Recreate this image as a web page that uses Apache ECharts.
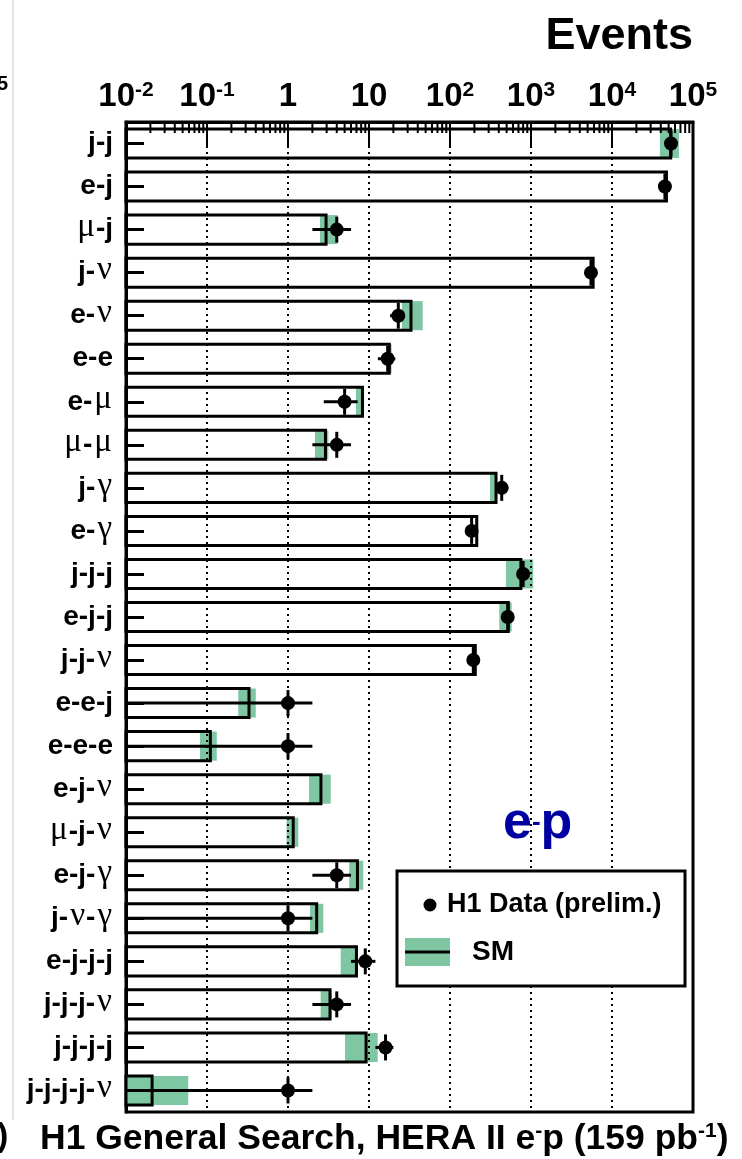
<!DOCTYPE html>
<html>
<head>
<meta charset="utf-8">
<script src="https://cdn.jsdelivr.net/npm/echarts@6/dist/echarts.min.js"></script>
<style>
  html, body { margin: 0; padding: 0; background: #fff; }
  #chart { width: 742px; height: 1159px; }
</style>
</head>
<body>
<div id="chart"></div>
<script>
// Final-state channels of the H1 general search (e-p, HERA II)
const channels = ['j-j', 'e-j', 'μ-j', 'j-ν', 'e-ν', 'e-e', 'e-μ', 'μ-μ', 'j-γ', 'e-γ',
  'j-j-j', 'e-j-j', 'j-j-ν', 'e-e-j', 'e-e-e', 'e-j-ν', 'μ-j-ν', 'e-j-γ', 'j-ν-γ',
  'e-j-j-j', 'j-j-j-ν', 'j-j-j-j', 'j-j-j-j-ν'];

// Standard Model expectation and its uncertainty band (events)
const smPrediction = [53000, 47000, 2.95, 5850, 33, 17.8, 8.3, 2.9, 370, 214,
  750, 525, 205, 0.33, 0.11, 2.55, 1.16, 7.2, 2.26, 7.0, 3.3, 9.2, 0.021];
const smBandLow = [39000, 46000, 2.48, 5700, 25.5, 17.0, 6.9, 2.15, 312, 205,
  490, 406, 198, 0.243, 0.082, 1.82, 0.96, 5.7, 1.87, 4.47, 2.53, 5.06, 0.005];
const smBandHigh = [67000, 48500, 4.1, 6000, 46, 19.0, 8.7, 3.15, 375, 216,
  1065, 578, 212, 0.40, 0.132, 3.37, 1.34, 8.5, 2.73, 7.2, 3.47, 12.8, 0.0587];

// Observed events (H1 preliminary)
const dataEvents = [53500, 45000, 4, 5500, 23, 17, 5, 4, 435, 185,
  800, 516, 194, 1, 1, 0, 0, 4, 1, 9, 4, 16, 1];

// Decade tick labels: [mantissa text, superscript]
const tickLabels = [['10', '-2'], ['10', '-1'], ['1', ''], ['10', ''],
  ['10', '2'], ['10', '3'], ['10', '4'], ['10', '5']];
const xMin = 0.01, xMax = 1e5;

const SANS = '"Liberation Sans", Arial, Helvetica, sans-serif';
const SERIF = '"Liberation Serif", "DejaVu Serif", serif';
const GREEN = '#7fc6a2';
const BLUE = '#0000a0';

// Split a channel name into Greek (serif) and Latin (bold sans) runs
function channelLabel(name) {
  let out = '', run = '', greek = null;
  for (const ch of name) {
    const g = /[\u0370-\u03ff]/.test(ch);
    if (greek !== null && g !== greek) { out += '{' + (greek ? 'g' : 'b') + '|' + run + '}'; run = ''; }
    greek = g; run += ch;
  }
  if (run) out += '{' + (greek ? 'g' : 'b') + '|' + run + '}';
  return out;
}

function decadeLabel(v) {
  const e = Math.round(Math.log10(v));
  const lab = tickLabels[e - Math.round(Math.log10(xMin))];
  if (!lab) return '';
  return lab[1] ? '{m|' + lab[0] + '}{s|' + lab[1] + '}' : '{m|' + lab[0] + '}';
}

// minor ticks 2..9 within each decade
const minorTicks = [];
for (let e = -2; e < 5; e++) for (let m = 2; m <= 9; m++) minorTicks.push([m * Math.pow(10, e), 0]);

const chart = echarts.init(document.getElementById('chart'), null, { renderer: 'canvas' });

function xAt(api, cs, v, cat) {
  const x = api.coord([Math.max(v, xMin), cat])[0];
  return Math.max(cs.x, Math.min(cs.x + cs.width, x));
}

chart.setOption({
  backgroundColor: '#fff',
  animation: false,
  grid: {
    left: 126, top: 122, width: 567, height: 990,
    show: true, borderColor: '#000', borderWidth: 3, backgroundColor: 'transparent',
    containLabel: false, outerBoundsMode: 'none'
  },
  xAxis: {
    type: 'log', logBase: 10, min: xMin, max: xMax, interval: 1, position: 'top', z: 5,
    axisLine: { show: true, onZero: false, lineStyle: { color: '#000', width: 3 } },
    axisTick: { show: true, inside: true, length: 26, lineStyle: { color: '#000', width: 2 } },
    minorTick: { show: false },
    axisLabel: {
      margin: 9, formatter: decadeLabel,
      rich: {
        m: { fontFamily: SANS, fontWeight: 'bold', fontSize: 33, color: '#000', verticalAlign: 'bottom', lineHeight: 33, padding: [10, 0, 0, 0] },
        s: { fontFamily: SANS, fontWeight: 'bold', fontSize: 21, color: '#000', verticalAlign: 'top', lineHeight: 21 }
      }
    },
    splitLine: { show: true, lineStyle: { color: '#000', width: 2, type: [2, 4] } }
  },
  yAxis: {
    type: 'category', inverse: true, data: channels,
    axisLine: { show: true, lineStyle: { color: '#000', width: 3 } },
    axisTick: { show: true, inside: true, length: 18, alignWithLabel: true, lineStyle: { color: '#000', width: 3 } },
    axisLabel: {
      margin: 13, formatter: channelLabel,
      rich: {
        b: { fontFamily: SANS, fontWeight: 'bold', fontSize: 28, color: '#000' },
        g: { fontFamily: SERIF, fontSize: 33, color: '#000', padding: [0, 1, 4, 2] }
      }
    },
    splitLine: { show: false }
  },
  series: [
    {
      // minor ticks hanging from the top axis
      type: 'custom', z: 6, silent: true,
      data: minorTicks, encode: { x: 0, y: 1 },
      renderItem(params, api) {
        const cs = params.coordSys;
        const x = api.coord([api.value(0), 0])[0];
        return { type: 'line', shape: { x1: x, y1: cs.y, x2: x, y2: cs.y + 11 }, style: { stroke: '#000', lineWidth: 2 } };
      }
    },
    {
      // SM expectation: uncertainty band and outlined bar
      type: 'custom', z: 2, silent: true,
      data: channels.map((c, i) => [smPrediction[i], i, smBandLow[i], smBandHigh[i]]),
      encode: { x: [0, 2, 3], y: 1 },
      renderItem(params, api) {
        const cs = params.coordSys;
        const cat = api.value(1);
        const band = cs.height / channels.length;
        const h = band * 0.675;
        const yc = api.coord([1, cat])[1];
        const xEnd = xAt(api, cs, api.value(0), cat);
        const bl = xAt(api, cs, api.value(2), cat);
        const bh = xAt(api, cs, api.value(3), cat);
        return {
          type: 'group', children: [
            { type: 'rect', shape: { x: bl, y: yc - h / 2, width: bh - bl, height: h }, style: { fill: GREEN } },
            { type: 'rect', shape: { x: cs.x, y: yc - h / 2, width: xEnd - cs.x, height: h }, style: { fill: 'none', stroke: '#000', lineWidth: 3 } }
          ]
        };
      }
    },
    {
      // data points with statistical errors
      type: 'custom', z: 7, silent: true,
      data: channels.map((c, i) => [dataEvents[i], i]),
      encode: { x: 0, y: 1 },
      renderItem(params, api) {
        const n = api.value(0);
        if (!(n > 0)) return null;
        const cs = params.coordSys;
        const cat = api.value(1);
        const err = Math.sqrt(n);
        const p = api.coord([n, cat]);
        const lo = xAt(api, cs, n - err, cat);
        const hi = xAt(api, cs, n + err, cat);
        return {
          type: 'group', children: [
            { type: 'line', shape: { x1: lo, y1: p[1], x2: hi, y2: p[1] }, style: { stroke: '#000', lineWidth: 3 } },
            { type: 'line', shape: { x1: p[0], y1: p[1] - 13, x2: p[0], y2: p[1] + 13 }, style: { stroke: '#000', lineWidth: 3 } },
            { type: 'circle', shape: { cx: p[0], cy: p[1], r: 7 }, style: { fill: '#000' } }
          ]
        };
      }
    }
  ],
  graphic: [
    { type: 'line', shape: { x1: 13, y1: 0, x2: 13, y2: 1120 }, style: { stroke: '#c8c8c8', lineWidth: 1 } },
    { type: 'text', left: -3, top: 74, style: { text: '5', font: 'bold 20px ' + SANS, fill: '#000' } },
    { type: 'text', left: -3, top: 1120, style: { text: ')', font: 'bold 34px ' + SANS, fill: '#000' } },
    {
      type: 'text', right: 49, top: 14,
      style: { text: 'Events', font: 'bold 45px ' + SANS, fill: '#000' }
    },
    {
      type: 'text', left: 40, top: 1117,
      style: {
        text: '{t|H1 General Search, HERA II e}{s|-}{t|p (159 pb}{s|-1}{t|)}',
        rich: {
          t: { fontFamily: SANS, fontWeight: 'bold', fontSize: 35.5, fill: '#000', verticalAlign: 'bottom', lineHeight: 36, padding: [4, 0, 0, 0] },
          s: { fontFamily: SANS, fontWeight: 'bold', fontSize: 21, fill: '#000', verticalAlign: 'top', lineHeight: 21 }
        }
      }
    },
    {
      type: 'text', left: 503, top: 796,
      style: {
        text: '{t|e}{s|-}{t|p}',
        rich: {
          t: { fontFamily: SANS, fontWeight: 'bold', fontSize: 52, fill: BLUE, verticalAlign: 'bottom', lineHeight: 54 },
          s: { fontFamily: SANS, fontWeight: 'bold', fontSize: 26, fill: BLUE, verticalAlign: 'top', lineHeight: 26, padding: [14, 0, 0, 0] }
        }
      }
    },
    // legend
    { type: 'rect', shape: { x: 397, y: 871, width: 288, height: 115 }, style: { fill: '#fff', stroke: '#000', lineWidth: 3 }, z: 10 },
    { type: 'circle', shape: { cx: 430, cy: 905, r: 6.5 }, style: { fill: '#000' }, z: 11 },
    { type: 'text', x: 447, y: 905, style: { text: 'H1 Data (prelim.)', font: 'bold 27px ' + SANS, fill: '#000', verticalAlign: 'middle' }, z: 11 },
    { type: 'rect', shape: { x: 405, y: 938, width: 45, height: 28 }, style: { fill: GREEN }, z: 11 },
    { type: 'line', shape: { x1: 405, y1: 952, x2: 450, y2: 952 }, style: { stroke: '#000', lineWidth: 3 }, z: 12 },
    { type: 'text', x: 472, y: 952, style: { text: 'SM', font: 'bold 28px ' + SANS, fill: '#000', verticalAlign: 'middle' }, z: 11 }
  ]
});
</script>
</body>
</html>
